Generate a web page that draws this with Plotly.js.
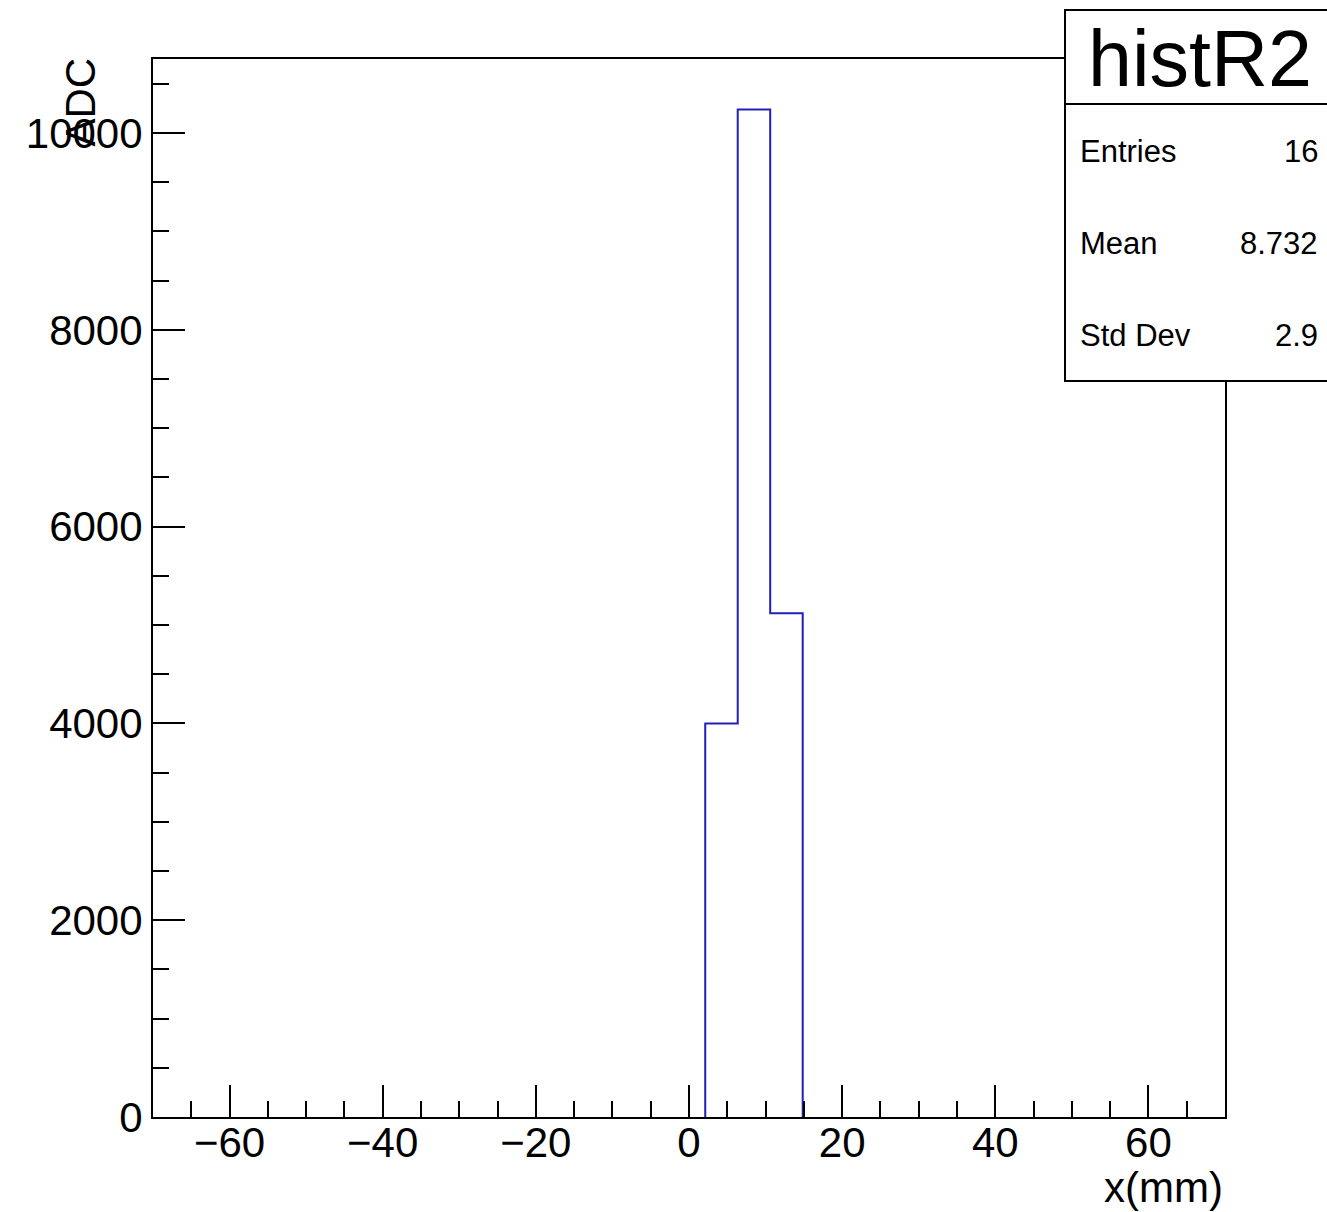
<!DOCTYPE html>
<html>
<head>
<meta charset="utf-8">
<script src="https://cdn.plot.ly/plotly-3.0.1.min.js"></script>
<style>html,body{margin:0;padding:0;background:#fff;}#chart{width:1327px;height:1212px;}</style>
</head>
<body>
<div id="chart"></div>
<script>
// ---- data ----
const histName = "histR2";
const xMin = -70;
const xMax = 70;
const nBins = 33;
const binCounts = [
  0, 0, 0, 0, 0, 0, 0, 0, 0, 0,
  0, 0, 0, 0, 0, 0, 0, 4000, 10240, 5120,
  0, 0, 0, 0, 0, 0, 0, 0, 0, 0,
  0, 0, 0
];
const statLabels = ["Entries", "Mean", "Std Dev"];
const statValues = ["16", "8.732", "2.9"];
const xTitle = "x(mm)";
const yTitle = "ADC";

// ---- build step outline from bins (skip empty leading/trailing bins) ----
const binW = (xMax - xMin) / nBins;
let first = binCounts.findIndex(v => v !== 0);
let last = nBins - 1 - [...binCounts].reverse().findIndex(v => v !== 0);
const stepX = [xMin + first * binW], stepY = [0];
for (let i = first; i <= last; i++) { stepX.push(xMin + i * binW); stepY.push(binCounts[i]); }
stepX.push(xMin + (last + 1) * binW); stepY.push(0);
const yMax = Math.max(...binCounts) * 1.05;

// ---- layout helpers (pixel -> paper) ----
const L = 153, R = 1225, T = 59, B = 1117;
const px = v => (v - L) / (R - L);
const py = v => (B - v) / (B - T);
const FONT = "Liberation Sans, Arial, Helvetica, sans-serif";

const annotations = [
  {text: histName, xref: 'paper', yref: 'paper', x: px(1200), y: py(58), xanchor: 'center', yanchor: 'middle',
   showarrow: false, font: {family: FONT, size: 79, color: '#000'}},
  {text: xTitle, xref: 'paper', yref: 'paper', x: 1, y: py(1187), xanchor: 'right', yanchor: 'middle',
   showarrow: false, font: {family: FONT, size: 42, color: '#000'}},
  {text: yTitle, xref: 'paper', yref: 'paper', x: px(80), y: py(56), xanchor: 'center', yanchor: 'top', textangle: -90,
   showarrow: false, font: {family: FONT, size: 42, color: '#000'}}
];
const rowY = [151, 243, 336];
statLabels.forEach((lab, i) => {
  annotations.push({text: lab, xref: 'paper', yref: 'paper', x: px(1078), y: py(rowY[i]), xanchor: 'left', yanchor: 'middle',
    showarrow: false, font: {family: FONT, size: 31, color: '#000'}});
  annotations.push({text: statValues[i], xref: 'paper', yref: 'paper', x: px(1320), y: py(rowY[i]), xanchor: 'right', yanchor: 'middle',
    showarrow: false, font: {family: FONT, size: 31, color: '#000'}});
});

const shapes = [
  {type: 'rect', xref: 'paper', yref: 'paper', x0: px(1065), x1: px(1335), y0: py(381), y1: py(10),
   line: {color: '#000', width: 2}, fillcolor: '#fff', layer: 'above'},
  {type: 'line', xref: 'paper', yref: 'paper', x0: px(1065), x1: px(1335), y0: py(104), y1: py(104),
   line: {color: '#000', width: 2}, layer: 'above'}
];

const trace = {
  type: 'scatter', mode: 'lines', x: stepX, y: stepY, cliponaxis: false,
  line: {shape: 'hv', color: '#2020b8', width: 2}, hoverinfo: 'skip', showlegend: false
};

const layout = {
  width: 1327, height: 1212,
  margin: {l: L, r: 1327 - R, t: T, b: 1212 - B, pad: 0},
  paper_bgcolor: '#fff', plot_bgcolor: '#fff',
  font: {family: FONT, size: 42, color: '#000'},
  showlegend: false,
  xaxis: {
    range: [xMin, xMax], tick0: 0, dtick: 20, ticks: 'inside', ticklen: 32, tickwidth: 2, tickcolor: '#000',
    showline: true, linecolor: '#000', linewidth: 2, mirror: true, showgrid: false, zeroline: false,
    minor: {dtick: 5, ticks: 'inside', ticklen: 16, tickwidth: 2, tickcolor: '#000', showgrid: false},
    tickfont: {family: FONT, size: 42, color: '#000'}, ticklabelstandoff: -12
  },
  yaxis: {
    range: [0, yMax], tick0: 0, dtick: 2000, ticks: 'inside', ticklen: 32, tickwidth: 2, tickcolor: '#000',
    showline: true, linecolor: '#000', linewidth: 2, mirror: true, showgrid: false, zeroline: false,
    tickformat: 'd',
    minor: {dtick: 500, ticks: 'inside', ticklen: 16, tickwidth: 2, tickcolor: '#000', showgrid: false},
    tickfont: {family: FONT, size: 42, color: '#000'}, ticklabelstandoff: 0
  },
  annotations: annotations,
  shapes: shapes
};

Plotly.newPlot('chart', [trace], layout, {staticPlot: true, displayModeBar: false});
</script>
</body>
</html>
